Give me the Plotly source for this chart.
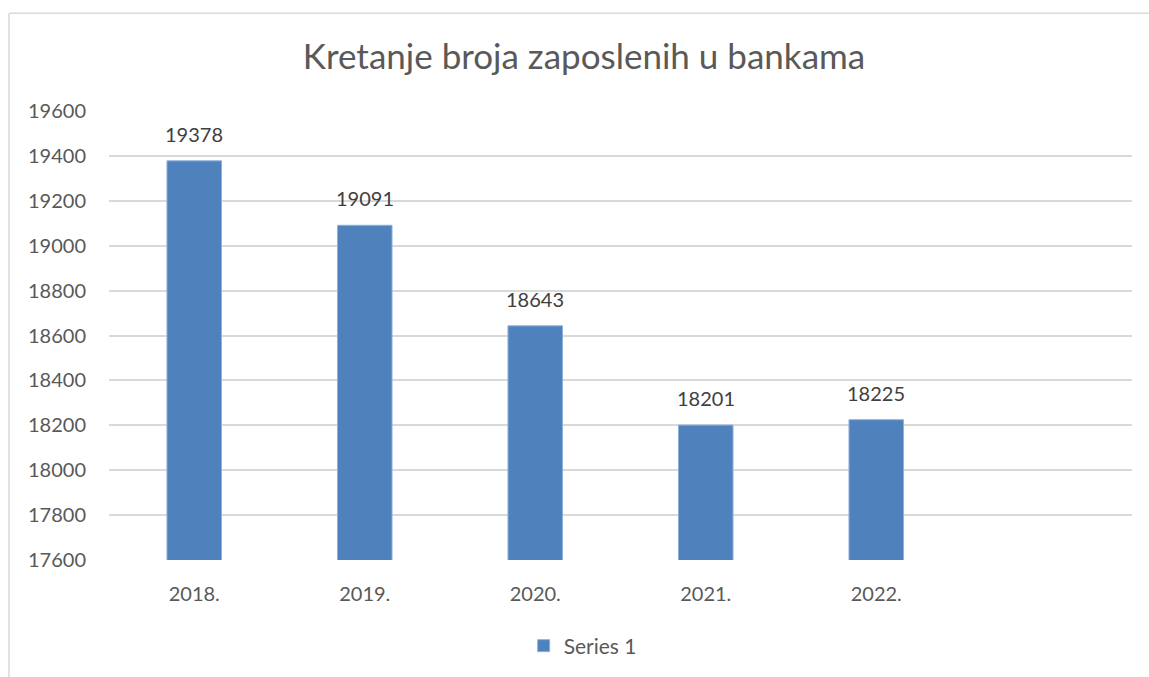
import plotly.graph_objects as go

# data
years = ["2018.", "2019.", "2020.", "2021.", "2022.", " "]
employees = [19378, 19091, 18643, 18201, 18225, None]
tick_vals = [17600, 17800, 18000, 18200, 18400, 18600, 18800, 19000, 19200, 19400, 19600]

W, H = 1149, 677
L, R, T, B = 109, 17, 111, 116
pw = W - L - R
ph = H - T - B

txt = "#595959"
font = "Lato, 'Liberation Sans', sans-serif"

fig = go.Figure()
fig.add_trace(
    go.Bar(
        x=years,
        y=employees,
        name="Series 1",
        marker=dict(color="#4f81bd", line=dict(color="#8fb0da", width=1)),
        showlegend=True,
    )
)

# value labels above bars (category index, "2018." would be read as a number)
for i, v in enumerate(employees):
    if v is None:
        continue
    fig.add_annotation(
        x=i, y=v, text=str(v), showarrow=False,
        yanchor="middle", yshift=27,
        font=dict(size=20, color="#404040", family=font),
    )

# outer chart border (top + left only)
fig.add_shape(type="line", xref="paper", yref="paper",
              x0=(9 - L) / pw, x1=(W + 5 - L) / pw,
              y0=(H - B - 13) / ph, y1=(H - B - 13) / ph,
              line=dict(color="#d9d9d9", width=1.5))
fig.add_shape(type="line", xref="paper", yref="paper",
              x0=(9 - L) / pw, x1=(9 - L) / pw,
              y0=(H - B - 13) / ph, y1=(H - B - H - 5) / ph,
              line=dict(color="#d9d9d9", width=1.5))

fig.update_layout(
    width=W,
    height=H,
    margin=dict(l=L, r=R, t=T, b=B),
    paper_bgcolor="white",
    plot_bgcolor="white",
    font=dict(family=font, color=txt, size=20),
    title=dict(
        text="Kretanje broja zaposlenih u bankama",
        x=584 / W,
        xref="container",
        xanchor="center",
        y=1 - 57 / H,
        yanchor="middle",
        font=dict(size=35, color=txt, family=font),
    ),
    bargap=0.68,
    showlegend=True,
    legend=dict(
        orientation="h",
        x=0.463,
        xanchor="center",
        y=-(646 - (H - B)) / ph,
        yanchor="middle",
        font=dict(size=21, color=txt),
        itemwidth=30,
    ),
    xaxis=dict(
        type="category",
        range=[-0.5, 5.5],
        showgrid=False,
        showline=False,
        ticks="",
        tickfont=dict(size=20, color=txt),
        ticklabelstandoff=20,
    ),
    yaxis=dict(
        range=[17600, 19600],
        tickvals=tick_vals,
        tickformat="d",
        showgrid=True,
        gridcolor="#d9d9d9",
        gridwidth=1.5,
        zeroline=False,
        showline=False,
        ticks="",
        tickfont=dict(size=20, color=txt),
        ticklabelstandoff=22,
    ),
)

fig.write_html(
    "out.html",
    config={"displayModeBar": False},
    post_script="document.body.style.margin='0';",
)
